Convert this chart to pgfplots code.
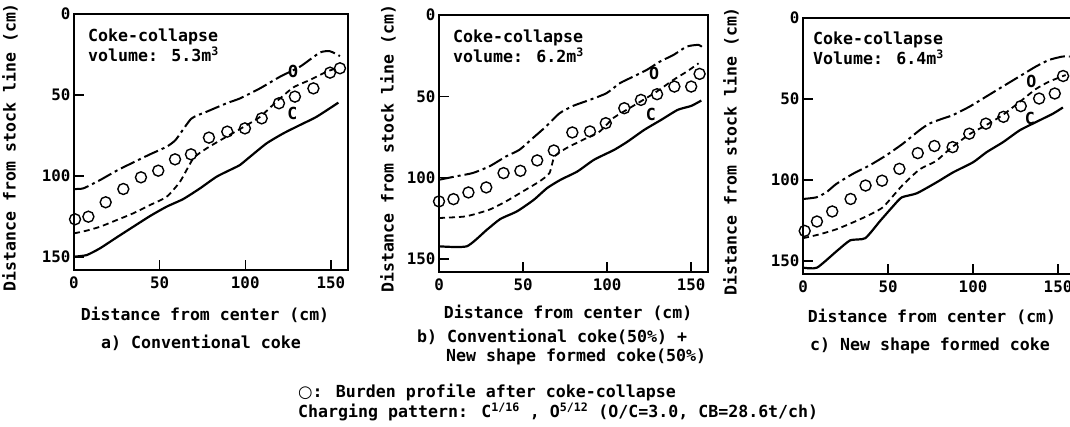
\documentclass[border=0pt]{standalone}
\usepackage{fontspec}
\setmainfont{DejaVu Sans Mono}
\newfontfamily\symfont{DejaVu Sans}
\usepackage{pgfplots}
\pgfplotsset{compat=1.18}
\newcommand\txt{\fontsize{16.6}{20}\selectfont\bfseries}
\pgfplotsset{
  panel/.style={
    scale only axis, anchor=south west,
    y dir=reverse, xmin=0, xmax=160, ymin=0, ymax=158,
    xtick={0,50,100,150}, ytick={0,50,100,150},
    xtick pos=left, ytick pos=left,
    tick align=inside,
    major tick length=10pt,
    axis line style={line width=1.7pt},
    every tick/.style={line width=1.5pt, black},
    tick label style={font=\fontsize{15.8}{18}\selectfont\bfseries},
    xticklabel style={yshift=-3pt},
    /pgf/number format/assume math mode=true,
    label style={font=\fontsize{16.5}{20}\selectfont\bfseries},
    xlabel={Distance from center (cm)},
    ylabel={Distance from stock line (cm)},
    clip=false,
  },
}
\tikzset{
  cline/.style={line width=2.2pt, smooth, tension=0.35, black},
  oline/.style={line width=2pt, smooth, tension=0.35, black, dash pattern=on 15pt off 4pt on 3pt off 4pt},
  mline/.style={line width=1.8pt, smooth, tension=0.35, black, dash pattern=on 6pt off 4pt},
  circ/.style={only marks, mark=o, mark size=5.5pt, mark options={line width=1.4pt, black, solid}},
  boxtext/.style={anchor=north west, align=left, inner sep=0pt, font=\txt},
  curvelab/.style={font=\txt, inner sep=0pt},
}
\begin{document}
\begin{tikzpicture}[x=1pt,y=1pt]
\useasboundingbox (0pt,0pt) rectangle (1070pt,426pt);
% ---------------- panel a
\begin{axis}[panel, at={(74pt,156pt)}, width=274pt, height=256pt,
  ylabel style={at={(axis description cs:-0.234,0.48)}, anchor=center},
  xlabel style={at={(axis description cs:0.478,0)}, anchor=center, yshift=-45pt}]
\addplot[oline] coordinates {(0,108) (5.5,107.6) (15.2,102.5) (24.9,96.7) (34.6,91.6) (44.4,86.6) (54.1,81.9) (59.5,77.5) (68.5,64.6) (77.5,60.3) (89.1,55.1) (96.9,52.1) (108.6,45.9) (120.3,38.7) (132.0,32.5) (143.6,23.8) (149.5,23.0) (155.3,26.0)};
\addplot[mline] coordinates {(0,135.4) (7.4,133.7) (15.2,131.3) (24.9,127.2) (34.6,123.0) (44.4,117.9) (54.1,112.8) (61.9,103.5) (69.7,89.1) (77.5,82.9) (89.1,75.7) (98.9,69.8) (108.6,63.5) (118.3,54.0) (128.1,45.3) (137.8,40.7) (147.5,35.6) (153.4,33.5)};
\addplot[cline] coordinates {(0,149.8) (7.4,148.8) (15.2,144.6) (24.9,137.9) (34.6,131.3) (44.4,124.7) (54.1,118.9) (63.8,114.2) (73.6,107.6) (83.3,100.4) (93.0,95.3) (96.9,93.2) (102.8,88.1) (112.5,79.8) (122.2,73.7) (132.0,68.5) (141.7,63.4) (154.4,54.7)};
\addplot[circ] coordinates {(0.6,126.7) (8.4,125.1) (18.5,116.2) (28.8,108.0) (39.1,100.8) (49.2,96.7) (59.0,89.7) (68.3,86.6) (78.8,76.3) (89.5,72.6) (99.8,70.6) (109.6,64.4) (119.7,55.1) (129.0,51.0) (139.8,45.9) (149.5,36.2) (155.3,33.5)};
\node[boxtext, xshift=14pt, yshift=-15pt] at (axis description cs:0,1) {Coke-collapse\\volume: 5.3m\textsuperscript{3}};
\node[curvelab] at (axis cs:128,35.6) {O};
\node[curvelab] at (axis cs:127.5,61.3) {C};
\end{axis}
% ---------------- panel b
\begin{axis}[panel, at={(439pt,154pt)}, width=269pt, height=257pt,
  ylabel style={at={(axis description cs:-0.19,0.48)}, anchor=center},
  xlabel style={at={(axis description cs:0.48,0)}, anchor=center, yshift=-41pt}]
\addplot[oline] coordinates {(0,101.3) (10.0,99.2) (19.9,97.2) (29.9,93.1) (39.8,87.0) (47.8,82.9) (55.8,75.7) (63.7,68.5) (71.7,60.4) (79.7,55.9) (89.6,52.2) (99.6,48.1) (107.6,41.9) (115.5,37.9) (123.5,33.8) (131.5,28.6) (139.4,24.6) (147.4,19.4) (154.4,18.4) (157.4,20.5)};
\addplot[mline] coordinates {(0,124.8) (15.9,123.8) (29.9,119.7) (39.8,114.6) (49.8,108.5) (59.8,102.3) (65.7,97.2) (68.7,87.0) (75.7,81.9) (85.7,76.7) (95.6,71.6) (103.6,63.4) (111.6,58.3) (121.5,52.2) (129.5,47.1) (139.4,39.9) (147.4,34.8) (154.4,29.7)};
\addplot[cline] coordinates {(0,142.2) (16.5,142.2) (28.5,132.0) (36.5,125.4) (46.4,120.7) (56.4,113.6) (64.3,106.4) (72.3,101.3) (82.3,96.2) (92.2,89.0) (104.2,82.9) (112.2,77.8) (122.1,70.6) (132.1,64.5) (142.0,58.3) (150.0,55.9) (156.0,52.6)};
\addplot[circ] coordinates {(0,114.6) (8.6,113.2) (17.5,109.1) (28.1,106.0) (38.4,97.2) (48.4,95.8) (58.4,89.4) (68.3,83.3) (79.3,72.2) (89.8,71.6) (99.2,66.5) (110.2,57.3) (120.1,52.2) (129.7,48.7) (140.0,44.0) (150.0,44.0) (155.0,36.2)};
\node[boxtext, xshift=14pt, yshift=-15pt] at (axis description cs:0,1) {Coke-collapse\\volume: 6.2m\textsuperscript{3}};
\node[curvelab] at (axis cs:128,35.8) {O};
\node[curvelab] at (axis cs:126,61.4) {C};
\end{axis}
% ---------------- panel c
\begin{axis}[panel, at={(803pt,152pt)}, width=272pt, height=256pt,
  ylabel style={at={(axis description cs:-0.265,0.48)}, anchor=center},
  xlabel style={at={(axis description cs:0.474,0)}, anchor=center, yshift=-43pt}]
\addplot[oline] coordinates {(0,111.7) (7.8,110.7) (13.7,107.6) (19.6,102.4) (29.3,96.2) (39.1,91.0) (48.9,84.8) (58.7,77.6) (68.5,69.3) (74.3,65.2) (82.1,62.1) (88.0,60.0) (97.8,54.8) (107.6,48.6) (117.3,42.4) (127.1,36.2) (136.9,30.0) (144.7,25.9) (152.6,23.8) (156.9,23.8)};
\addplot[mline] coordinates {(0,135.9) (9.8,133.5) (19.6,130.4) (29.3,126.2) (39.1,121.5) (46.9,116.9) (54.8,107.6) (58.7,103.0) (68.5,93.5) (78.2,88.3) (86.1,81.1) (97.8,71.8) (107.6,66.2) (117.3,60.0) (127.1,52.1) (136.9,43.9) (144.7,39.3) (154.5,35.2)};
\addplot[cline] coordinates {(0,154.1) (8.2,154.1) (19.9,143.8) (27.8,137.2) (36.6,135.9) (45.4,125.2) (53.2,115.9) (58.1,110.7) (66.9,108.2) (78.6,101.4) (88.4,95.2) (100.1,89.0) (108.0,82.8) (117.7,76.6) (127.5,69.3) (137.3,64.1) (147.1,59.0) (152.9,55.2)};
\addplot[circ] coordinates {(1.0,131.4) (8.2,125.6) (17.2,119.4) (28.0,111.7) (36.8,103.4) (46.5,100.4) (56.7,93.1) (67.5,83.4) (77.3,79.0) (88.0,79.7) (97.8,71.4) (107.6,65.2) (117.9,61.0) (128.1,54.4) (138.9,49.7) (148.1,46.6) (153.0,35.8)};
\node[boxtext, xshift=10pt, yshift=-14pt] at (axis description cs:0,1) {Coke-collapse\\Volume: 6.4m\textsuperscript{3}};
\node[curvelab] at (axis cs:134.4,39.3) {O};
\node[curvelab] at (axis cs:133.4,62.1) {C};
\end{axis}
% ---------------- captions
\node[font=\txt] at (201pt,83pt) {a) Conventional coke};
\node[font=\txt, anchor=west, inner sep=0pt] at (417pt,89pt) {b) Conventional coke(50\%) +};
\node[font=\txt, anchor=west, inner sep=0pt] at (446pt,69pt) {New shape formed coke(50\%)};
\node[font=\txt] at (930pt,80pt) {c) New shape formed coke};
\node[font=\txt, anchor=west, inner sep=0pt] at (298pt,34pt) {{\symfont ○}: Burden profile after coke-collapse};
\node[font=\txt, anchor=west, inner sep=0pt] at (298pt,14pt) {Charging pattern: C\textsuperscript{1/16} , O\textsuperscript{5/12} (O/C=3.0, CB=28.6t/ch)};
\end{tikzpicture}
\end{document}
